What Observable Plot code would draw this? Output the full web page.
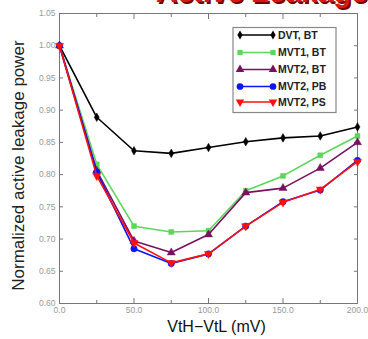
<!DOCTYPE html>
<html><head><meta charset="utf-8">
<script src="https://cdn.jsdelivr.net/npm/d3@7"></script>
<script src="https://cdn.jsdelivr.net/npm/@observablehq/plot@0.6"></script>
<style>
body{margin:0;background:#fff;font-family:Arial,"Liberation Sans",sans-serif}
#wrap{position:relative;width:368px;height:339px;overflow:hidden}
#title{position:absolute;left:156px;top:-25px;font:bold 29px/34px Arial,"Liberation Sans",sans-serif;color:#d81818;text-shadow:2px 2px 0 #7a0000;white-space:nowrap}
#legend{position:absolute;left:0;top:0}
</style>
</head><body><div id="wrap"><div id="title">Active Leakage</div></div>
<script>
const xs = [0, 25, 50, 75, 100, 125, 150, 175, 200];
const dvtBT  = [1.000, 0.889, 0.837, 0.833, 0.842, 0.851, 0.857, 0.860, 0.874];
const mvt1BT = [1.000, 0.816, 0.720, 0.711, 0.713, 0.775, 0.798, 0.830, 0.860];
const mvt2BT = [1.000, 0.806, 0.697, 0.679, 0.707, 0.772, 0.779, 0.810, 0.850];
const mvt2PB = [1.000, 0.804, 0.685, 0.662, 0.677, 0.720, 0.758, 0.776, 0.822];
const mvt2PS = [1.000, 0.798, 0.694, 0.663, 0.677, 0.720, 0.757, 0.777, 0.820];
const seriesNames = ["DVT, BT", "MVT1, BT", "MVT2, BT", "MVT2, PB", "MVT2, PS"];
const seriesValues = [dvtBT, mvt1BT, mvt2BT, mvt2PB, mvt2PS];
const seriesColors = ["#000000", "#5cd65c", "#7a1060", "#0a14ff", "#ff1010"];
const seriesSymbols = ["diamond", "square", "triangle", "circle", "triangle"];
const seriesRotate = [0, 0, 0, 0, 180];
const seriesSizes = [2.6, 2.8, 3.0, 3.2, 3.0];
const xMajorTicks = [0, 50, 100, 150, 200];
const xMinorTicks = [25, 75, 125, 175];
const yTicks = [0.60, 0.65, 0.70, 0.75, 0.80, 0.85, 0.90, 0.95, 1.00, 1.05];

const marks = [];
seriesValues.forEach((vals, i) => {
  const data = xs.map((x, j) => ({x, y: vals[j]}));
  marks.push(Plot.line(data, {x: "x", y: "y", stroke: seriesColors[i], strokeWidth: 1.6}));
  marks.push(Plot.dot(data, {x: "x", y: "y", symbol: seriesSymbols[i], fill: seriesColors[i], stroke: seriesColors[i], strokeWidth: 0.5, r: seriesSizes[i], rotate: seriesRotate[i]}));
});

const gray = "#999";
const axisStroke = "#777";
const chart = Plot.plot({
  width: 368, height: 339,
  marginLeft: 59, marginRight: 11, marginTop: 13, marginBottom: 36,
  style: {fontFamily: "Arial, 'Liberation Sans', sans-serif", background: "transparent"},
  x: {domain: [0, 200]},
  y: {domain: [0.60, 1.05]},
  marks: [
    Plot.frame({stroke: axisStroke, strokeWidth: 1}),
    Plot.axisY({anchor: "left", ticks: yTicks, tickSize: -4, tickPadding: 8, tickFormat: d3.format(".2f"), fontSize: 8.5, fill: gray, stroke: axisStroke, label: null}),
    Plot.axisY({anchor: "right", ticks: yTicks, tickSize: -4, fill: "none", stroke: axisStroke, label: null}),
    Plot.axisX({anchor: "bottom", ticks: xMajorTicks, tickSize: -5, tickPadding: 8, tickFormat: d3.format(".1f"), fontSize: 8.5, fill: gray, stroke: axisStroke, label: null}),
    Plot.axisX({anchor: "bottom", ticks: xMinorTicks, tickSize: -3, fill: "none", stroke: axisStroke, label: null}),
    Plot.axisX({anchor: "top", ticks: xMajorTicks, tickSize: -5, fill: "none", stroke: axisStroke, label: null}),
    Plot.axisX({anchor: "top", ticks: xMinorTicks, tickSize: -3, fill: "none", stroke: axisStroke, label: null}),
    Plot.text(["VtH\u2212VtL (mV)"], {frameAnchor: "bottom", dy: 28, dx: 8, fontSize: 16, fill: "#111"}),
    Plot.text(["Normalized active leakage power"], {frameAnchor: "left", textAnchor: "middle", rotate: -90, dx: -41, dy: 7, fontSize: 17, fill: "#222"}),
    ...marks
  ]
});
const wrap = document.getElementById("wrap");
wrap.insertBefore(chart, wrap.firstChild);

// legend overlay
const lg = d3.select(wrap).append("svg").attr("id", "legend").attr("width", 368).attr("height", 339);
lg.append("rect").attr("x", 233).attr("y", 27.5).attr("width", 103).attr("height", 85).attr("fill", "#fff").attr("stroke", "#888").attr("stroke-width", 1.2);
const rowY = [35, 52.5, 69.5, 86.5, 102];
seriesNames.forEach((name, i) => {
  const g = lg.append("g");
  g.append("line").attr("x1", 240).attr("x2", 273).attr("y1", rowY[i]).attr("y2", rowY[i]).attr("stroke", seriesColors[i]).attr("stroke-width", 1.6);
  const sym = d3.symbol().type({diamond: d3.symbolDiamond, square: d3.symbolSquare, triangle: d3.symbolTriangle, circle: d3.symbolCircle}[seriesSymbols[i]]).size(Math.PI * seriesSizes[i] * seriesSizes[i] * 1.1);
  [240, 273].forEach(cx => {
    g.append("path").attr("d", sym()).attr("fill", seriesColors[i]).attr("transform", `translate(${cx},${rowY[i]}) rotate(${seriesRotate[i]})`);
  });
  g.append("text").attr("x", 278).attr("y", rowY[i]).attr("dy", "0.35em").attr("font-size", 10.5).attr("font-weight", "bold").attr("font-family", "Arial, 'Liberation Sans', sans-serif").attr("fill", "#222").text(name);
});
</script>
</body></html>
